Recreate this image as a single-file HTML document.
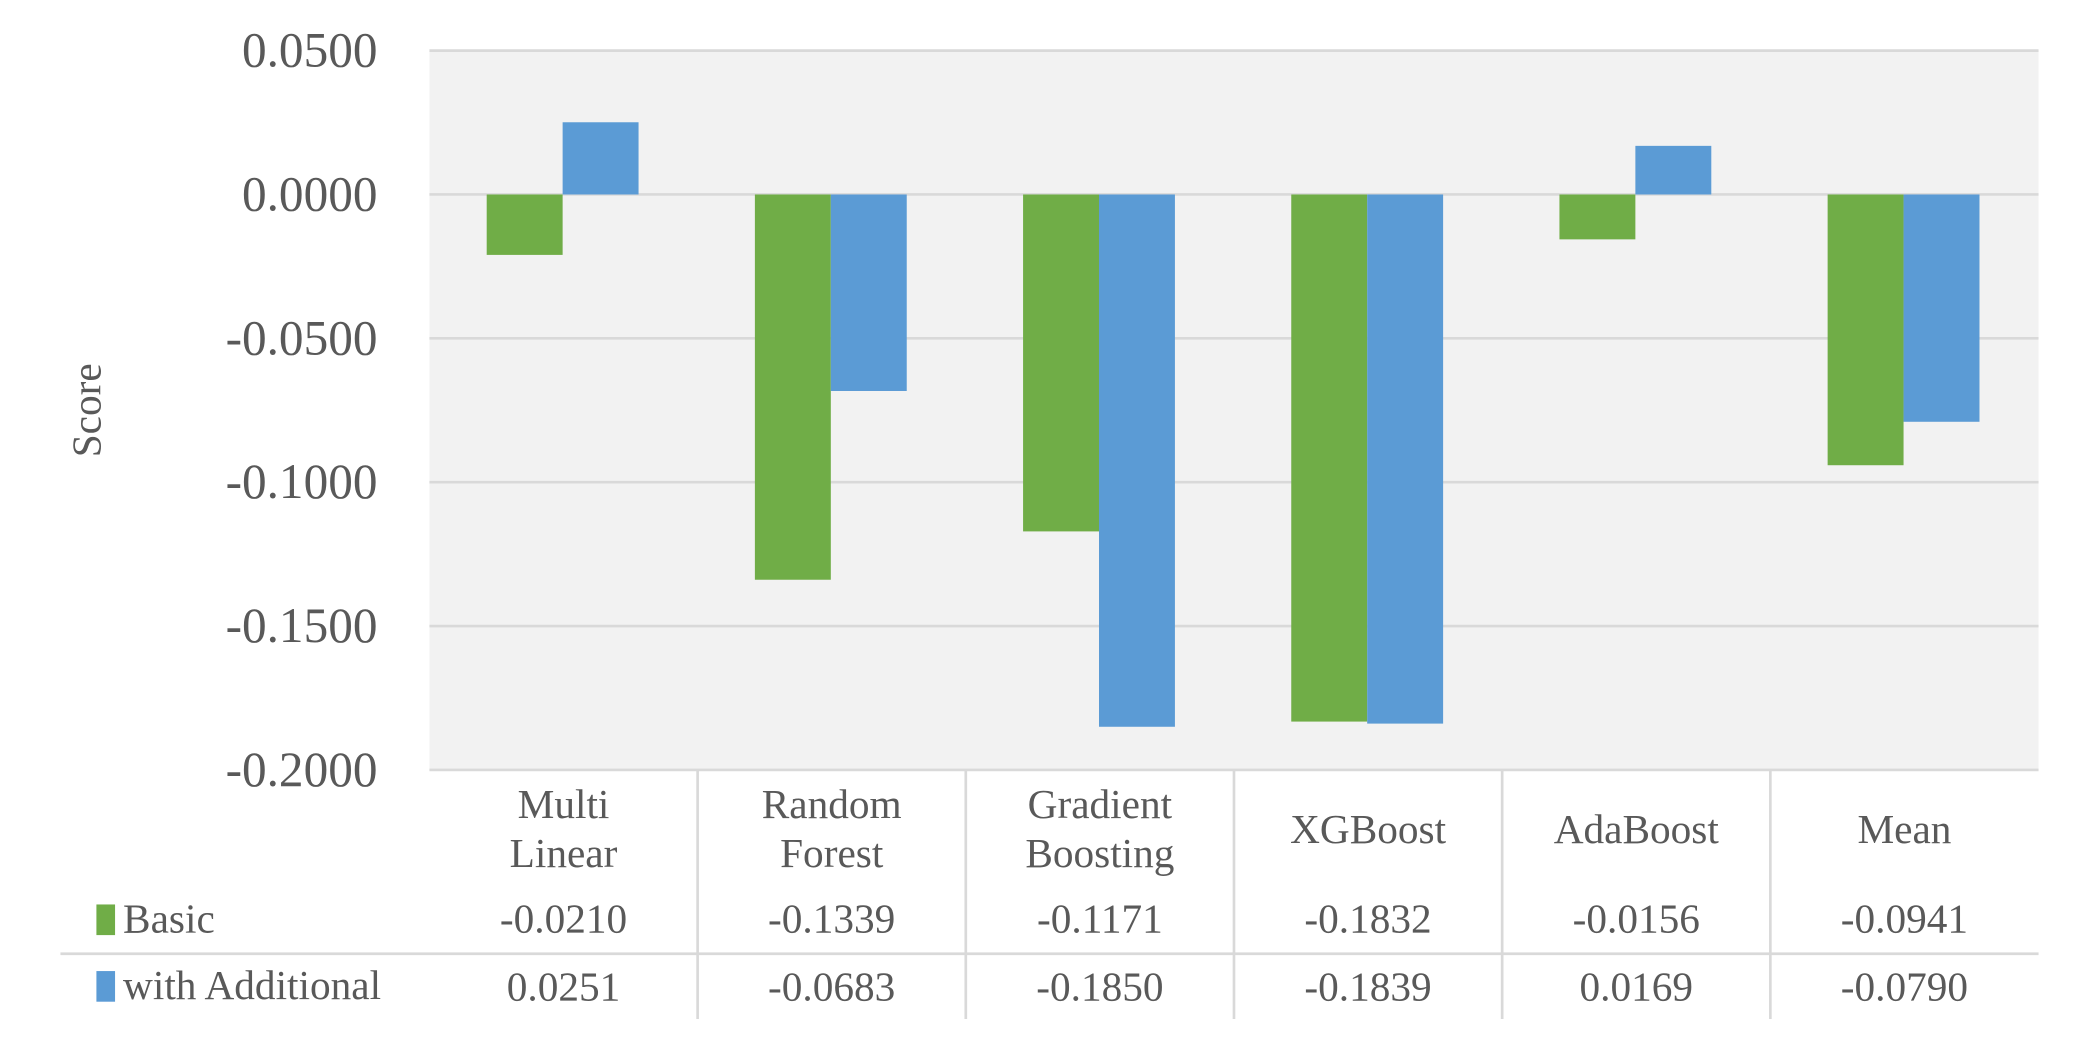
<!DOCTYPE html>
<html><head><meta charset="utf-8"><style>
html,body{margin:0;padding:0;background:#fff;}
svg{display:block;font-family:"Liberation Serif",serif;}
</style></head><body>
<svg id="chart" width="2079" height="1039" viewBox="0 0 1560 780" xmlns="http://www.w3.org/2000/svg">
<rect x="322" y="38" width="1208" height="540" fill="#f2f2f2"/>
<g id="grid"></g>
<g id="bars"></g>
<g id="ylabels" fill="#595959" font-size="37" text-anchor="end"></g>
<text transform="translate(75,308) rotate(-90)" text-anchor="middle" font-size="31" fill="#595959">Score</text>
<g id="table" fill="#595959" font-size="31" text-anchor="middle"></g>
</svg>
<script>
const categories = [["Multi","Linear"],["Random","Forest"],["Gradient","Boosting"],["XGBoost"],["AdaBoost"],["Mean"]];
const basic = [-0.0210,-0.1339,-0.1171,-0.1832,-0.0156,-0.0941];
const additional = [0.0251,-0.0683,-0.1850,-0.1839,0.0169,-0.0790];
const basicLabels = ["-0.0210","-0.1339","-0.1171","-0.1832","-0.0156","-0.0941"];
const additionalLabels = ["0.0251","-0.0683","-0.1850","-0.1839","0.0169","-0.0790"];
const ticks = [0.05,0,-0.05,-0.1,-0.15,-0.2];
const tickLabels = ["0.0500","0.0000","-0.0500","-0.1000","-0.1500","-0.2000"];
const seriesNames = ["Basic","with Additional"];

const NS="http://www.w3.org/2000/svg";
const L=322,R=1530,T=38,B=578,ymax=0.05,ymin=-0.2;
const y=v=>T+(ymax-v)/(ymax-ymin)*(B-T);
const cw=(R-L)/categories.length;
const x=i=>L+i*cw;
function mk(tag,attrs,parent){const e=document.createElementNS(NS,tag);for(const k in attrs)e.setAttribute(k,attrs[k]);document.getElementById(parent).appendChild(e);return e;}
ticks.forEach((t,i)=>{
  const g=mk('line',{x1:L,x2:R,y1:y(t),y2:y(t),stroke:'#d9d9d9','stroke-width':2},'grid');
  
  
  const tx=mk('text',{x:283,y:y(t)+12},'ylabels');tx.textContent=tickLabels[i];
  
  
});
const bw=57,off=43;
[[basic,'#70ad47'],[additional,'#5b9bd5']].forEach(([arr,col],s)=>{
  arr.forEach((v,i)=>{
    const y0=y(0),y1=y(v);
    const r=mk('rect',{x:x(i)+off+s*bw,y:Math.min(y0,y1),width:bw,height:Math.abs(y1-y0),fill:col},'bars');
    
    
  });
});
for(let i=1;i<categories.length;i++){
  const l=mk('line',{x1:x(i),x2:x(i),y1:B,y2:765,stroke:'#d9d9d9','stroke-width':2},'table');
  
  
}
const hl=mk('line',{x1:45,x2:R,y1:716,y2:716,stroke:'#d9d9d9','stroke-width':2},'table');


categories.forEach((c,i)=>{
  const cx=x(i)+cw/2;
  c.forEach((line,j)=>{
    const baseY=c.length===1?633:614+j*37;
    const t=mk('text',{x:cx,y:baseY},'table');t.textContent=line;
    
    
  });
  const a=mk('text',{x:cx,y:700},'table');a.textContent=basicLabels[i];
  
  
  const b=mk('text',{x:cx,y:751},'table');b.textContent=additionalLabels[i];
  
  
});
[['#70ad47',690],['#5b9bd5',740]].forEach(([col,yy],s)=>{
  const k=mk('rect',{x:72,y:yy-11,width:14,height:23,fill:col},'table');
  
  
  const t=mk('text',{x:92,y:yy+10,'text-anchor':'start'},'table');t.textContent=seriesNames[s];
  
  
});
</script>
</body></html>
